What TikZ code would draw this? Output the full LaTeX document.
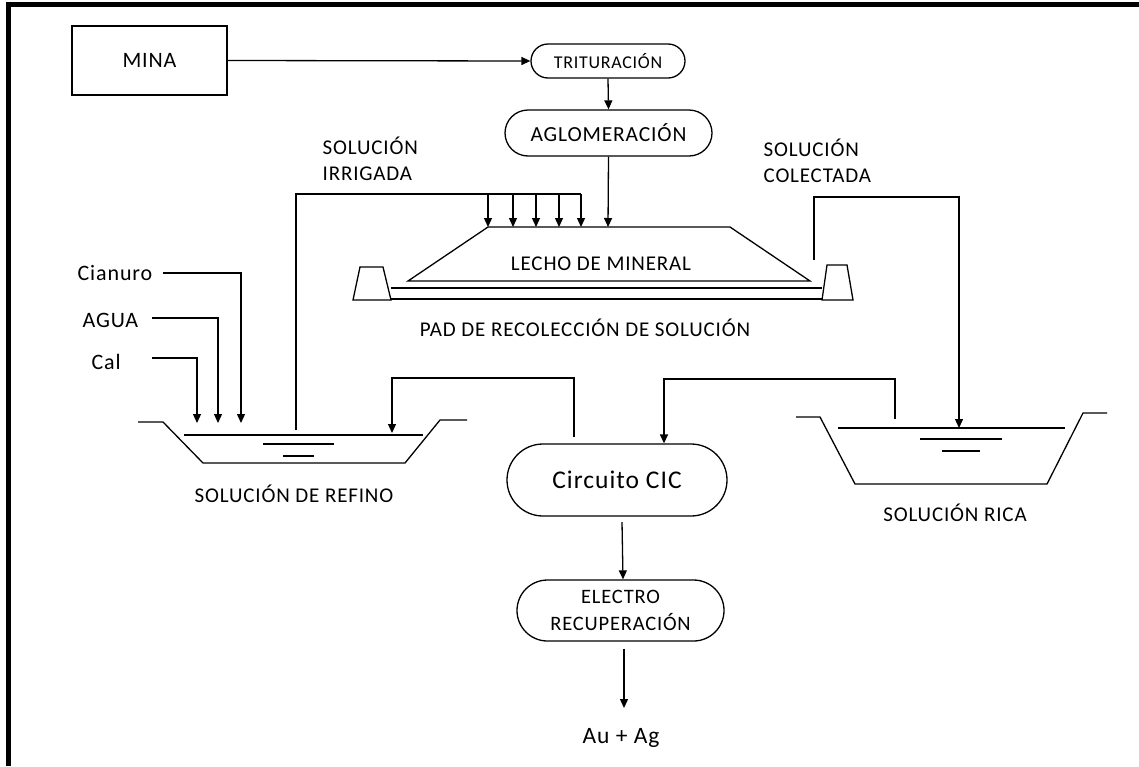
\documentclass[tikz,border=0pt]{standalone}
\usepackage{fontspec}
\setmainfont{Carlito}[LetterSpace=4]
\usetikzlibrary{arrows.meta}
\begin{document}
\begin{tikzpicture}[x=1pt,y=-1pt, line width=1.3pt,
  arr/.style={-{Triangle[length=9pt,width=8pt]}},
  txt/.style={inner sep=0pt, font=\fontsize{21}{26}\selectfont, align=center},
  stad/.style={draw, inner sep=0pt, align=center, font=\fontsize{21}{27}\selectfont}]
\useasboundingbox (0,0) rectangle (1139,766);
% frame
\draw[line width=4.5pt] (8.5,766) -- (8.5,4.5) -- (1139,4.5);

% top process
\node[draw, inner sep=0pt, minimum width=155pt, minimum height=69pt, font=\fontsize{22}{26}\selectfont] (mina) at (149.5,60.5) {MINA};
\node[stad, rounded corners=17pt, minimum width=154pt, minimum height=34pt, font=\fontsize{18}{22}\selectfont] (trit) at (608,61) {TRITURACIÓN};
\node[stad, rounded corners=23pt, minimum width=207pt, minimum height=46pt, font=\fontsize{21.5}{26}\selectfont] (aglo) at (608.5,133) {AGLOMERACIÓN};
\draw[arr] (mina.east) -- (trit.west);
\draw[arr] (trit.south) -- (aglo.north);

% labels
\node[txt, align=left, anchor=west] (irr) at (322,158.5) {SOLUCIÓN\\IRRIGADA};
\node[txt, align=left, anchor=west] (col) at (763,161) {SOLUCIÓN\\COLECTADA};
\node[txt] (lecho) at (601,264) {LECHO DE MINERAL};
\node[txt] (pad) at (585,328) {PAD DE RECOLECCIÓN DE SOLUCIÓN};
\node[txt] (refl) at (294,494) {SOLUCIÓN DE REFINO};
\node[txt] (rical) at (955,513) {SOLUCIÓN RICA};
\node[txt, anchor=west, font=\fontsize{22}{26}\selectfont] (cian) at (77,273) {Cianuro};
\node[txt, anchor=west, font=\fontsize{22}{26}\selectfont] (agua) at (82,320) {AGUA};
\node[txt, anchor=west, font=\fontsize{22}{26}\selectfont] (cal) at (91,362) {Cal};

% heap
\draw (408,281) -- (488,227) -- (730,227) -- (810,281) -- cycle;
\coordinate (pileT) at (608,227);
\draw[arr] (aglo.south) -- (pileT);
\draw (353,300) -- (360,267) -- (383,267) -- (391,300) -- cycle;
\draw (822,300) -- (827,265) -- (847,265) -- (853,300) -- cycle;
\draw (391,288) -- (822,288);
\draw (391,299) -- (822,299);

% irrigation
\coordinate (irrS) at (296,430);
\coordinate (irrC) at (296,194);
\coordinate (irrE) at (581,194);
\draw (irrS) -- (irrC) -- (irrE);
\foreach \x in {488,513,536,559,581}
  \draw[arr] (\x,194) -- (\x,227);

% collected solution
\coordinate (colS) at (814,260);
\coordinate (colC) at (814,197);
\coordinate (colE) at (959,428);
\draw[arr] (colS) -- (colC) -| (colE);

% refino pond
\draw (138,422) -- (163,422) -- (203,463) -- (405,463) -- (440,420) -- (467,420);
\draw (184,435) -- (423,435);
\draw (263,444) -- (334,444);
\draw (283,456) -- (314,456);

% rich pond
\draw (796,417) -- (820,417) -- (855,484) -- (1047,484) -- (1083,413) -- (1107,413);
\draw (838,428) -- (1065,428);
\draw (920,439) -- (1002,439);
\draw (942,451) -- (980,451);

% reagents
\coordinate (cianE) at (241,423);
\coordinate (aguaE) at (218,423);
\coordinate (calE) at (197,423);
\draw[arr] (163,273) -| (cianE);
\draw[arr] (152,318) -| (aguaE);
\draw[arr] (152,358) -| (calE);

% CIC
\node[stad, rounded corners=36pt, minimum width=220pt, minimum height=72pt, font=\fontsize{25.5}{30}\selectfont] (cic) at (617,480) {Circuito CIC};
\coordinate (ricaO) at (895,419);
\coordinate (cicIn) at (664,379);
\draw[arr] (ricaO) |- (cicIn) -- (cicIn |- cic.north);
\coordinate (cicO) at (574,437);
\coordinate (refIn) at (392,433);
\draw[arr] (cicO) |- (392,378) -- (refIn);

% electro
\node[stad, rounded corners=30.5pt, minimum width=207pt, minimum height=61pt, font=\fontsize{20.5}{27}\selectfont] (elec) at (620.5,610.5) {ELECTRO\\RECUPERACIÓN};
\coordinate (cicB) at (622,522);
\draw[arr] (cicB) -- (623,0 |- elec.north);
\node[txt, font=\fontsize{23.5}{28}\selectfont] (au) at (621,738) {Au + Ag};
\coordinate (auIn) at (624,708);
\draw[arr, shorten <=7pt] (624,0 |- elec.south) -- (auIn);
\end{tikzpicture}
\end{document}
